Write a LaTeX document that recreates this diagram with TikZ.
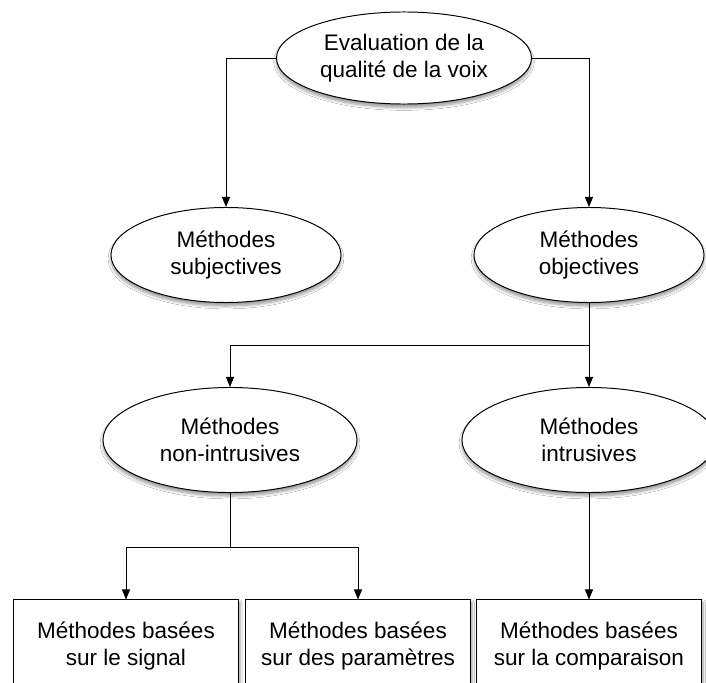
\documentclass[tikz,border=0pt]{standalone}
\usepackage{fontspec}
\setmainfont{Liberation Sans}
\usetikzlibrary{shapes.geometric,shadows.blur,arrows.meta}

\begin{document}
\begin{tikzpicture}
    [
        x=0.025cm, y=-0.025cm,
        methode/.style={ellipse, draw, fill=white, inner sep=0pt, align=center,
            blur shadow={shadow xshift=0pt, shadow yshift=-2.5pt, shadow blur steps=6, shadow blur radius=2pt}},
        famille/.style={methode, minimum width=5.75cm, minimum height=2.375cm},
        sousfamille/.style={methode, minimum width=6.35cm, minimum height=2.625cm},
        base/.style={rectangle, draw, fill=white, align=center,
            minimum width=5.6cm, minimum height=2.3cm,
            blur shadow={shadow xshift=1.5pt, shadow yshift=-1.5pt, shadow blur steps=6, shadow blur radius=1.5pt}},
        fleche/.style={-{Triangle[length=0.25cm, width=0.2cm]}},
        every node/.style={font=\fontsize{16}{19.2}\selectfont},
        line width=0.7pt,
    ]
    \clip (0,0) rectangle (706,683);
    \fill[white] (0,0) rectangle (706,683);

    \node (eval) at (404,58) [methode, minimum width=6.375cm, minimum height=2.3cm]
        {Evaluation de la\\qualité de la voix};

    \node (subj) at (226,255) [famille] {Méthodes\\subjectives};
    \node (obj) at (589,255) [famille] {Méthodes\\objectives};

    \node (nonintr) at (230,440) [sousfamille] {Méthodes\\non-intrusives};
    \node (intr) at (589,440) [sousfamille] {Méthodes\\intrusives};

    \node (signal) at (126,646) [base] {Méthodes basées\\sur le signal};
    \node (param) at (358,646) [base] {Méthodes basées\\sur des paramètres};
    \node (comp) at (589,646) [base] {Méthodes basées\\sur la comparaison};

    \coordinate (j1) at (589,345);
    \coordinate (j2) at (230,547);

    \draw[fleche] (eval.west) -| (subj);
    \draw[fleche] (eval.east) -| (obj);
    \draw (obj) -- (j1);
    \draw[fleche] (j1) -| (nonintr);
    \draw[fleche] (j1) -- (intr);
    \draw (nonintr) -- (j2);
    \draw[fleche] (j2) -| (signal);
    \draw[fleche] (j2) -| (param);
    \draw[fleche] (intr) -- (comp);
\end{tikzpicture}
\end{document}
